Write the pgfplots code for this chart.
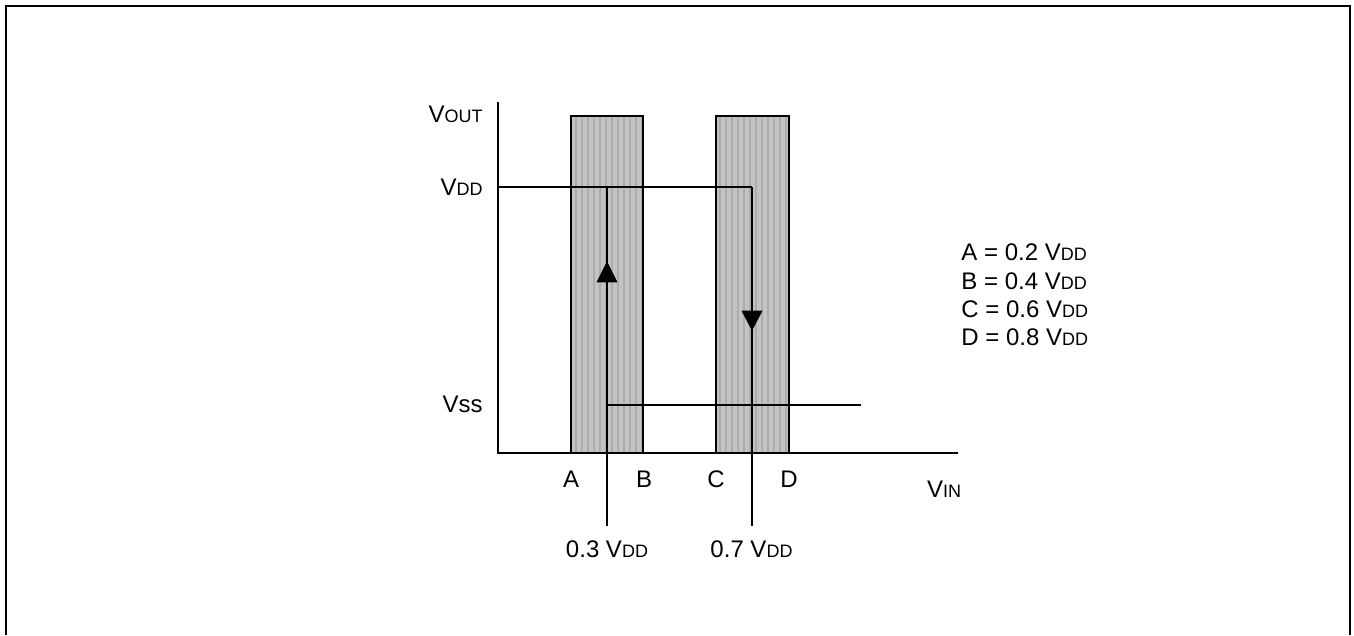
\documentclass[border=0pt]{standalone}
\usepackage{pgfplots}
\pgfplotsset{compat=1.18}
\usepackage{fontspec}
\setmainfont{Liberation Sans}
\usetikzlibrary{patterns.meta}
\newcommand\sm[1]{{\fontsize{9}{10}\selectfont #1}}
\newcommand\bg{\fontsize{12}{14}\selectfont}
\definecolor{barfill}{RGB}{195,195,195}
\definecolor{barstripe}{RGB}{172,172,172}
\begin{document}
\begin{tikzpicture}
\begin{axis}[
  scale only axis, width=677pt, height=317.5pt,
  xmin=0, xmax=1354, ymin=0, ymax=635, y dir=reverse,
  axis lines=none, clip=false,
]
% invisible frame for bounding box
\addplot[draw=none] coordinates {(0,0) (1354,635)};
% outer border
\addplot[line width=0.9pt] coordinates {(6,635) (6,6) (1350,6) (1350,635)};
% shaded bands A-B and C-D
\addplot[draw=black, line width=0.7pt, fill=barfill,
  postaction={pattern={Lines[angle=90,distance=3pt,line width=1.1pt]}, pattern color=barstripe}]
  coordinates {(571,453) (571,116) (643,116) (643,453)} -- cycle;
\addplot[draw=black, line width=0.7pt, fill=barfill,
  postaction={pattern={Lines[angle=90,distance=3pt,line width=1.1pt]}, pattern color=barstripe}]
  coordinates {(716,453) (716,116) (789,116) (789,453)} -- cycle;
% axes
\addplot[line width=1pt] coordinates {(498,102) (498,453) (958,453)};
% VDD level
\addplot[line width=1pt] coordinates {(498,187) (752,187)};
% VSS level
\addplot[line width=1pt] coordinates {(607,405) (861,405)};
% switching thresholds
\addplot[line width=1pt] coordinates {(607,187) (607,526)};
\addplot[line width=1pt] coordinates {(752,187) (752,526)};
% arrow heads
\addplot[fill=black, draw=black, line width=0.3pt] coordinates {(597,282) (617,282) (607,262)} -- cycle;
\addplot[fill=black, draw=black, line width=0.3pt] coordinates {(742,311) (762,311) (752,330)} -- cycle;
% labels
\node[inner sep=0pt, anchor=base east] at (axis cs:483,123) {\bg V\sm{OUT}};
\node[inner sep=0pt, anchor=base east] at (axis cs:483,196) {\bg V\sm{DD}};
\node[inner sep=0pt, anchor=base east] at (axis cs:483,412) {\bg Vss};
\node[inner sep=0pt, anchor=base] at (axis cs:944,497) {\bg V\sm{IN}};
\node[inner sep=0pt, anchor=base] at (axis cs:571,487) {\bg A};
\node[inner sep=0pt, anchor=base] at (axis cs:644,487) {\bg B};
\node[inner sep=0pt, anchor=base] at (axis cs:716,487) {\bg C};
\node[inner sep=0pt, anchor=base] at (axis cs:789,487) {\bg D};
\node[inner sep=0pt, anchor=base] at (axis cs:607,557) {\bg 0.3 V\sm{DD}};
\node[inner sep=0pt, anchor=base] at (axis cs:751.5,557) {\bg 0.7 V\sm{DD}};
\node[inner sep=0pt, anchor=base west] at (axis cs:961,261) {\bg A = 0.2 V\sm{DD}};
\node[inner sep=0pt, anchor=base west] at (axis cs:961,289) {\bg B = 0.4 V\sm{DD}};
\node[inner sep=0pt, anchor=base west] at (axis cs:961,317) {\bg C = 0.6 V\sm{DD}};
\node[inner sep=0pt, anchor=base west] at (axis cs:961,345) {\bg D = 0.8 V\sm{DD}};
\end{axis}
\end{tikzpicture}
\end{document}
